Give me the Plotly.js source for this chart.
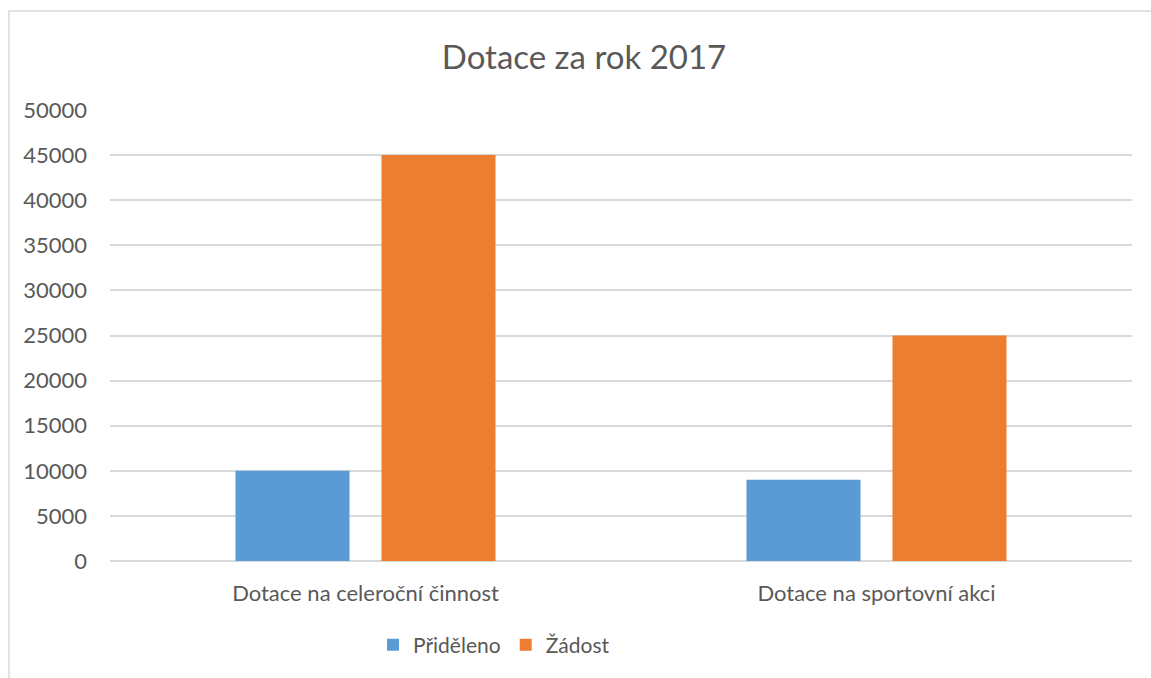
<!DOCTYPE html>
<html>
<head>
<meta charset="utf-8">
<script src="https://cdn.plot.ly/plotly-3.0.1.min.js"></script>
<style>html,body{margin:0;padding:0;background:#fff;} #chart{width:1151px;height:678px;}</style>
</head>
<body>
<div id="chart"></div>
<script>
const categories = ["Dotace na celeroční činnost", "Dotace na sportovní akci"];
const seriesNames = ["Přiděleno", "Žádost"];
const prideleno = [10000, 9000];
const zadost = [45000, 25000];
const yTicks = [0, 5000, 10000, 15000, 20000, 25000, 30000, 35000, 40000, 45000, 50000];

const font = "Lato, 'Open Sans', sans-serif";
const textColor = "#595959";

const traces = [
  {type: "bar", name: seriesNames[0], x: categories, y: prideleno, marker: {color: "#5B9BD5"}, hoverinfo: "x+y+name"},
  {type: "bar", name: seriesNames[1], x: categories, y: zadost, marker: {color: "#ED7D31"}, hoverinfo: "x+y+name"}
];

const layout = {
  width: 1151, height: 678,
  margin: {l: 110, r: 19, t: 110, b: 117},
  paper_bgcolor: "#fff", plot_bgcolor: "#fff",
  font: {family: font, color: textColor, size: 20},
  title: {text: "Dotace za rok 2017", font: {family: font, size: 33, color: textColor}, x: (584 - 110) / 1022, xref: "paper", xanchor: "center", y: 1 - 57/678, yanchor: "middle"},
  barmode: "group",
  bargap: 0.4286,
  bargroupgap: 0.219,
  xaxis: {
    type: "category",
    showgrid: false, zeroline: false,
    showline: false,
    ticks: "", ticklabelstandoff: 17,
    tickfont: {family: font, size: 22, color: textColor},
    fixedrange: true
  },
  yaxis: {
    range: [0, 50000],
    tickvals: yTicks, ticktext: yTicks.map(String),
    showgrid: true, gridcolor: "#d9d9d9", gridwidth: 1.5,
    zeroline: true, zerolinecolor: "#d9d9d9", zerolinewidth: 1.5,
    showline: false, ticks: "", ticklabelstandoff: 22,
    tickfont: {family: font, size: 22, color: textColor},
    fixedrange: true
  },
  showlegend: true,
  legend: {
    orientation: "h", x: (494 - 110) / 1022, xanchor: "center",
    y: (561 - 645) / 451, yanchor: "middle",
    font: {family: font, size: 21, color: textColor},
    itemwidth: 30, traceorder: "normal"
  },
  shapes: [{
    type: "rect", xref: "paper", yref: "paper",
    x0: (9 - 110) / 1022, x1: 1.1, y0: -0.5, y1: 1 + (110 - 11) / 451,
    line: {color: "#d9d9d9", width: 1.5}, fillcolor: "rgba(0,0,0,0)", layer: "below"
  }]
};

Plotly.newPlot("chart", traces, layout, {displayModeBar: false, responsive: false});
</script>
</body>
</html>
